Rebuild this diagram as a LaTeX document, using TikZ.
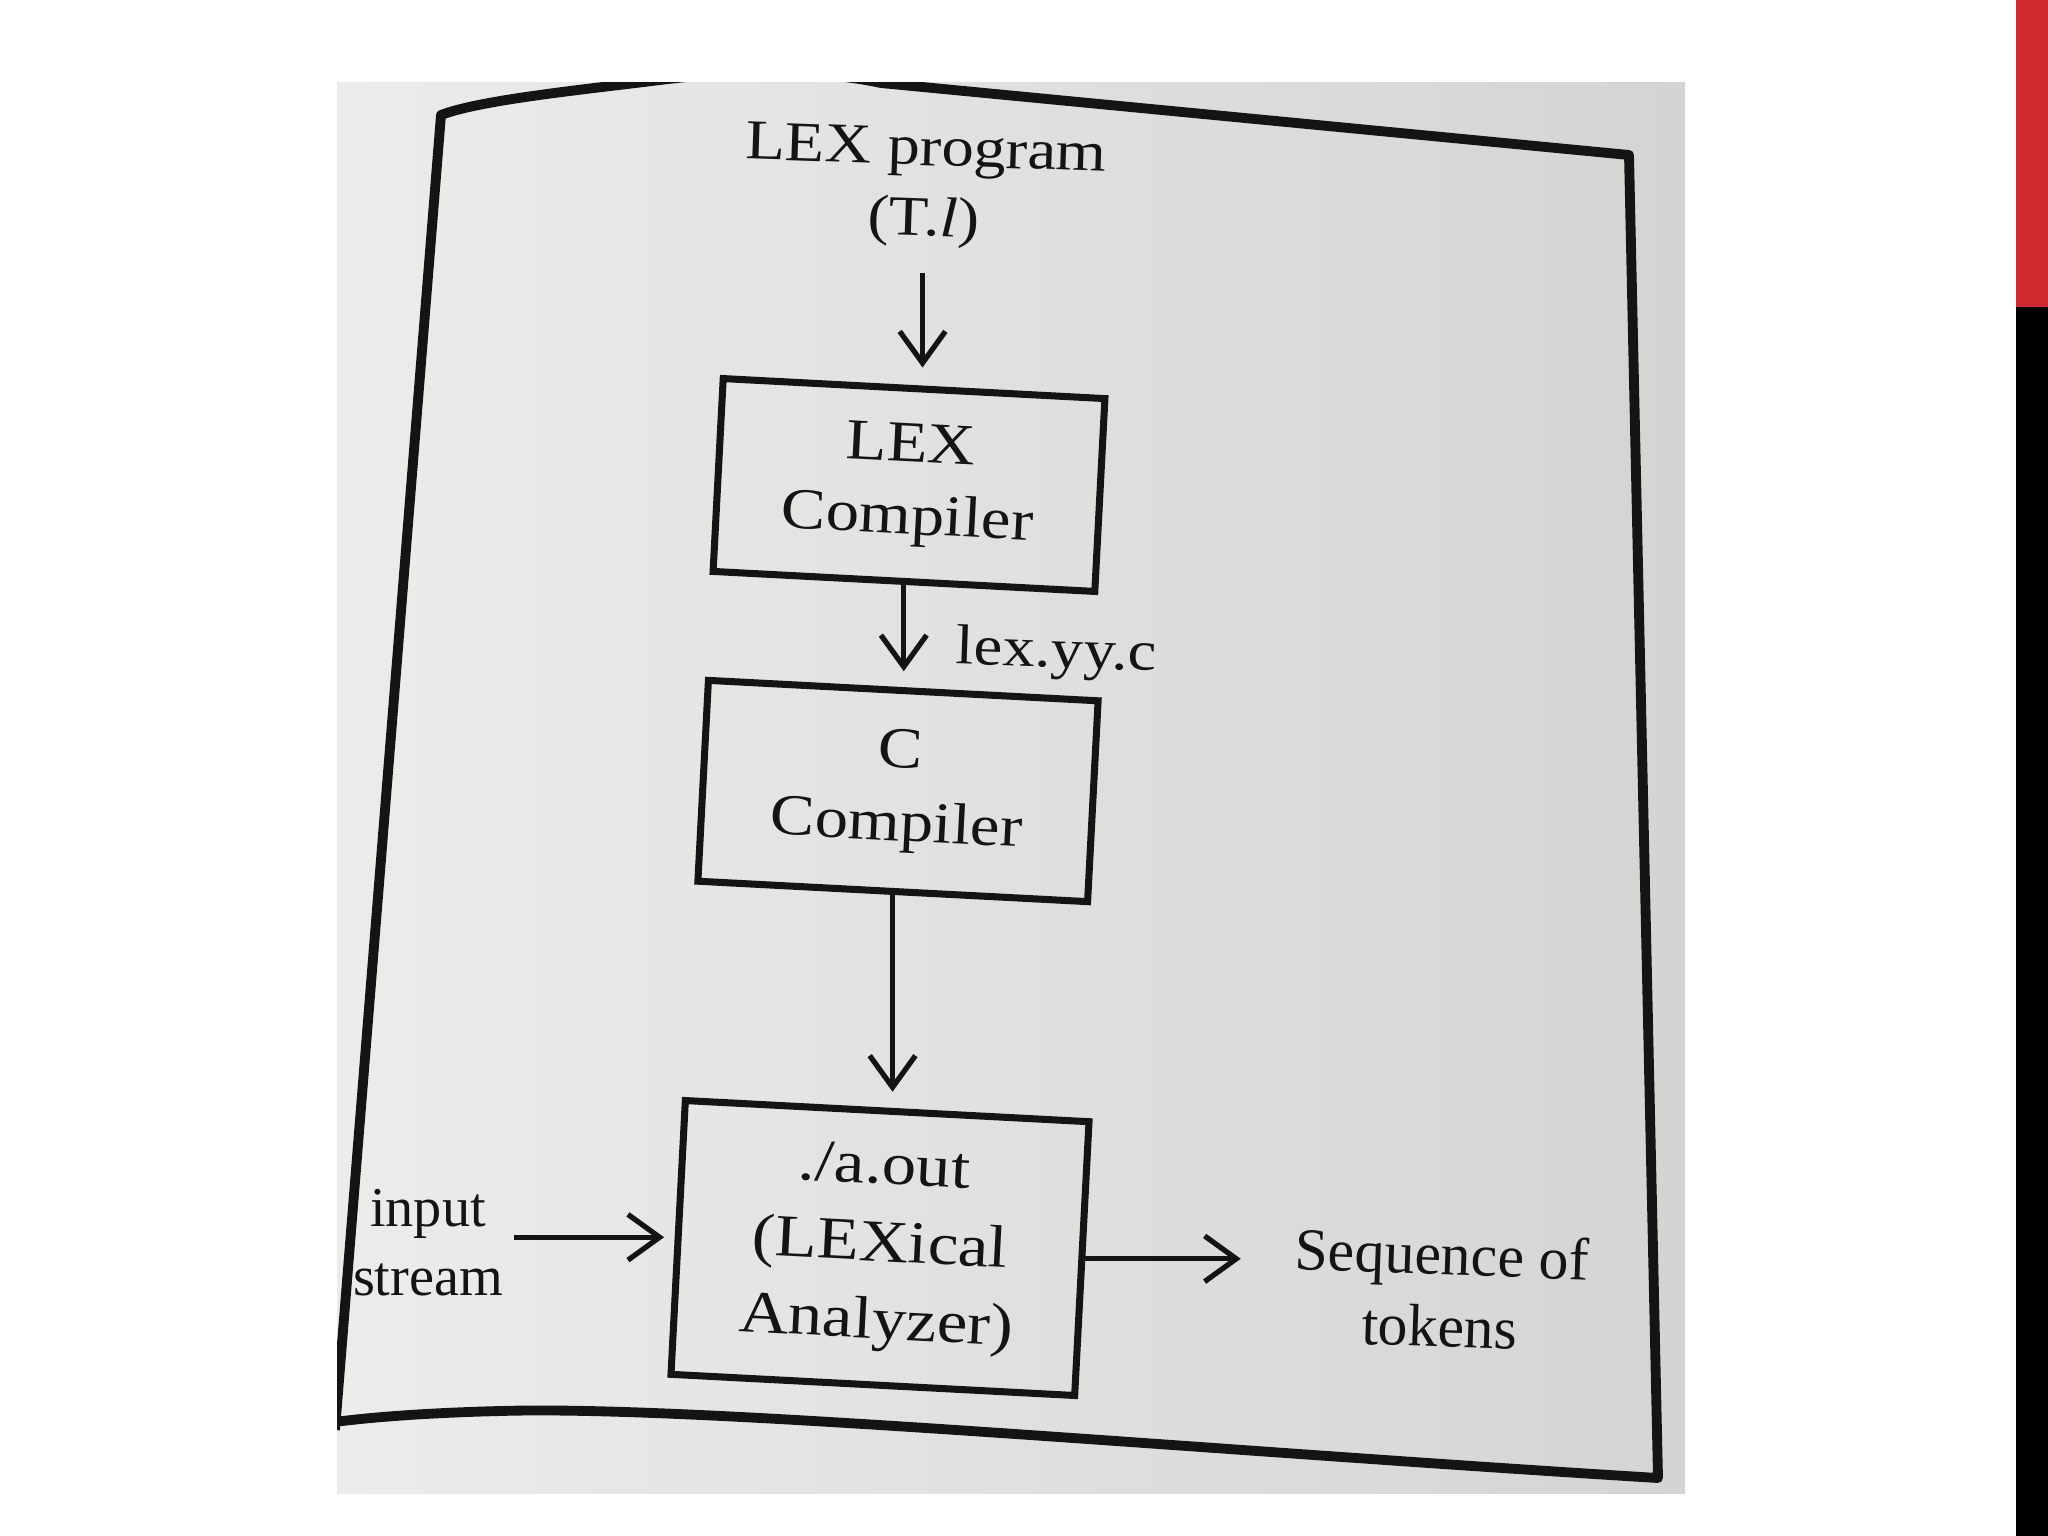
\documentclass[tikz,border=0pt]{standalone}
\usepackage{fontspec}
\setmainfont{Liberation Serif}
\newfontfamily\bk[FakeStretch=1.15]{Liberation Serif}
\usetikzlibrary{arrows.meta}
\definecolor{paperL}{RGB}{236,237,235}
\definecolor{paperR}{RGB}{212,213,211}
\definecolor{slidered}{RGB}{211,42,49}
\definecolor{ink}{RGB}{20,20,20}
\begin{document}
\begin{tikzpicture}[x=0.01cm,y=-0.01cm,
  box/.style={draw=ink, line width=2pt, rotate=-3, inner sep=0pt, align=center, text=ink},
  lbl/.style={text=ink, align=center, inner sep=3pt, rotate=-2},
  arr/.style={draw=ink, line width=1.5pt, -{Straight Barb[length=9pt,width=13pt]}},
  frame/.style={draw=ink, line width=2.8pt, line join=round}]
\useasboundingbox (0,0) rectangle (2048,1536);
\fill[white] (0,0) rectangle (2048,1536);
\shade[left color=paperL, right color=paperR] (337,82) rectangle (1685,1493);
\fill[slidered] (2016,0) rectangle (2048,307);
\fill[black] (2016,307) rectangle (2048,1536);
\begin{scope}
  \clip (337,82) rectangle (1685,1493);
  \draw[frame] (335,1430) -- (441,115) .. controls (480,100) and (580,90) .. (660,80)
    .. controls (740,70) and (820,70) .. (881,83)
    -- (1629,155) -- (1658,1478) .. controls (1200,1450) and (700,1405) .. (500,1411)
    .. controls (420,1413) and (360,1418) .. (320,1424);
\end{scope}

\node[lbl, font=\bk\fontsize{16}{20}\selectfont] (prog) at (925,188) {LEX program\\(T.\textit{l})};
\node[box, minimum width=3.82cm, minimum height=1.93cm, font=\bk\fontsize{16.5}{20.5}\selectfont] (lexc) at (909,485) {LEX\\Compiler};
\node[box, minimum width=3.90cm, minimum height=2.01cm, font=\bk\fontsize{16.5}{20.8}\selectfont] (cc) at (898,791) {C\\Compiler};
\node[box, minimum width=4.04cm, minimum height=2.74cm, font=\bk\fontsize{17}{22}\selectfont] (aout) at (880,1248) {./a.out\\(LEXical\\Analyzer)};
\node[lbl, rotate=2, font=\fontsize{16}{19.6}\selectfont] (input) at (428,1243) {input\\stream};
\node[lbl, font=\fontsize{17}{20.5}\selectfont] (seq) at (1441,1290) {Sequence of\\tokens};
\node[lbl, anchor=west, font=\bk\fontsize{16}{19}\selectfont] (yy) at (945,650) {lex.yy.c};

\draw[arr, shorten <=4pt, shorten >=5pt] (prog.south) -- (prog.south |- lexc.north);
\draw[arr, shorten >=4.5pt] (lexc.south) -- (lexc.south |- cc.north);
\draw[arr, shorten >=4.5pt] (cc.south) -- (cc.south |- aout.north);
\draw[arr, shorten >=3pt] (input.east |- aout.west) -- (aout.west);
\draw[arr, shorten >=12pt] (aout.east) -- (aout.east -| seq.west);
\end{tikzpicture}
\end{document}
